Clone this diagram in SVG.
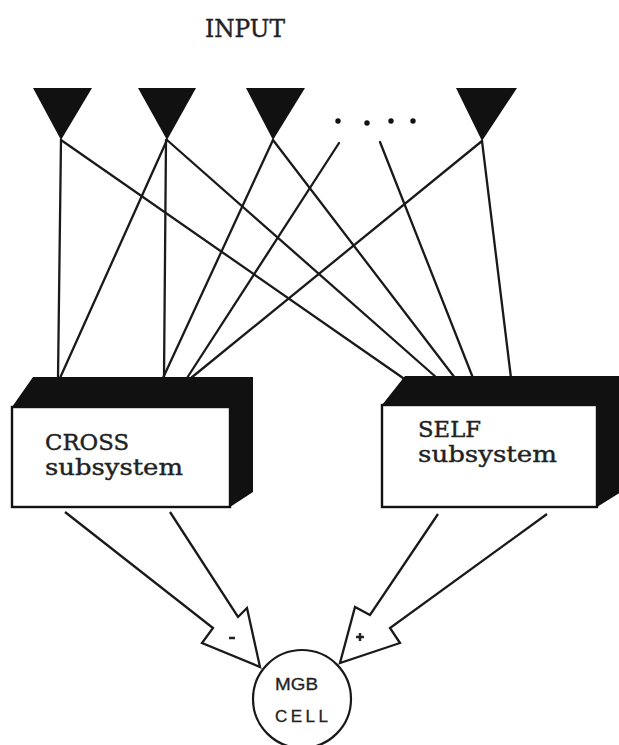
<svg xmlns="http://www.w3.org/2000/svg" width="619" height="745" viewBox="0 0 619 745">
  <style>
    .tri { fill: #111; }
    .wire { stroke: #1a1a1a; stroke-width: 2.3; fill: none; stroke-linecap: round; }
    .arrow { stroke: #1a1a1a; stroke-width: 2.3; fill: #fff; stroke-linejoin: miter; }
    .shade { fill: #111; }
    .face { fill: #fff; stroke: #111; stroke-width: 2.4; }
    .serif { font-family: "DejaVu Serif", "Liberation Serif", serif; fill: #222; stroke: #222; stroke-width: 0.4; }
    .sans { font-family: "Liberation Sans", Arial, sans-serif; fill: #222; font-size: 17px; stroke: #222; stroke-width: 0.3; }
  </style>
  <rect width="619" height="745" fill="#fff"/>

  <g id="input-label">
    <text class="serif" x="205" y="37" font-size="24" textLength="80" lengthAdjust="spacingAndGlyphs">INPUT</text>
  </g>

  <g id="input-1"><polygon class="tri" points="33,88 92,88 61,140"/></g>
  <g id="input-2"><polygon class="tri" points="138,88 196,88 167,140"/></g>
  <g id="input-3"><polygon class="tri" points="246,88 305,88 273,140"/></g>
  <g id="input-dots">
    <circle cx="338" cy="121" r="2.7" fill="#111"/>
    <circle cx="367" cy="123" r="2.7" fill="#111"/>
    <circle cx="391" cy="121" r="2.7" fill="#111"/>
    <circle cx="413" cy="121" r="2.7" fill="#111"/>
  </g>
  <g id="input-4"><polygon class="tri" points="456,88 517,88 482,141"/></g>

  <g id="connectors">
    <line class="wire" x1="61" y1="140" x2="58" y2="378"/>
    <line class="wire" x1="61" y1="140" x2="403" y2="378"/>
    <line class="wire" x1="167" y1="140" x2="60" y2="378"/>
    <line class="wire" x1="166" y1="140" x2="164" y2="378"/>
    <line class="wire" x1="167" y1="140" x2="437" y2="378"/>
    <line class="wire" x1="273" y1="140" x2="163" y2="378"/>
    <line class="wire" x1="273" y1="140" x2="455" y2="378"/>
    <line class="wire" x1="339" y1="143" x2="187" y2="378"/>
    <line class="wire" x1="380" y1="142" x2="473" y2="378"/>
    <line class="wire" x1="482" y1="141" x2="191" y2="378"/>
    <line class="wire" x1="482" y1="141" x2="511" y2="378"/>
    <polyline class="arrow" points="65,512 213,628 202,643 260,667 247,608 238,617 170,512"/>
    <polyline class="arrow" points="547,514 390,628 400,643 340,663 355,607 370,615 438,514"/>
  </g>

  <g id="cross">
    <polygon class="shade" points="12,407 33,377 253,377 253,492 230,507 230,407"/>
    <rect class="face" x="12" y="407" width="218" height="100"/>
    <text class="serif" x="45" y="450" font-size="22" textLength="84" lengthAdjust="spacingAndGlyphs">CROSS</text>
    <text class="serif" x="45" y="475" font-size="22" textLength="138" lengthAdjust="spacingAndGlyphs">subsystem</text>
  </g>

  <g id="self">
    <polygon class="shade" points="382,405 405,376 621,376 621,492 597,507 597,405"/>
    <rect class="face" x="382" y="405" width="215" height="102"/>
    <text class="serif" x="418" y="437" font-size="22" textLength="63" lengthAdjust="spacingAndGlyphs">SELF</text>
    <text class="serif" x="418" y="462" font-size="22" textLength="139" lengthAdjust="spacingAndGlyphs">subsystem</text>
  </g>

  <g id="signs">
    <line x1="229" y1="638" x2="235" y2="638" stroke="#222" stroke-width="2.5"/>
    <line x1="356" y1="637" x2="364" y2="637" stroke="#222" stroke-width="2.5"/>
    <line x1="360" y1="633" x2="360" y2="641" stroke="#222" stroke-width="2.5"/>
  </g>

  <g id="mgb-cell">
    <circle cx="302" cy="699" r="49" fill="#fff" stroke="#1a1a1a" stroke-width="2.2"/>
    <text class="sans" x="275" y="690" textLength="43" lengthAdjust="spacingAndGlyphs">MGB</text>
    <text class="sans" x="275" y="722" textLength="53" lengthAdjust="spacing">CELL</text>
  </g>
</svg>
